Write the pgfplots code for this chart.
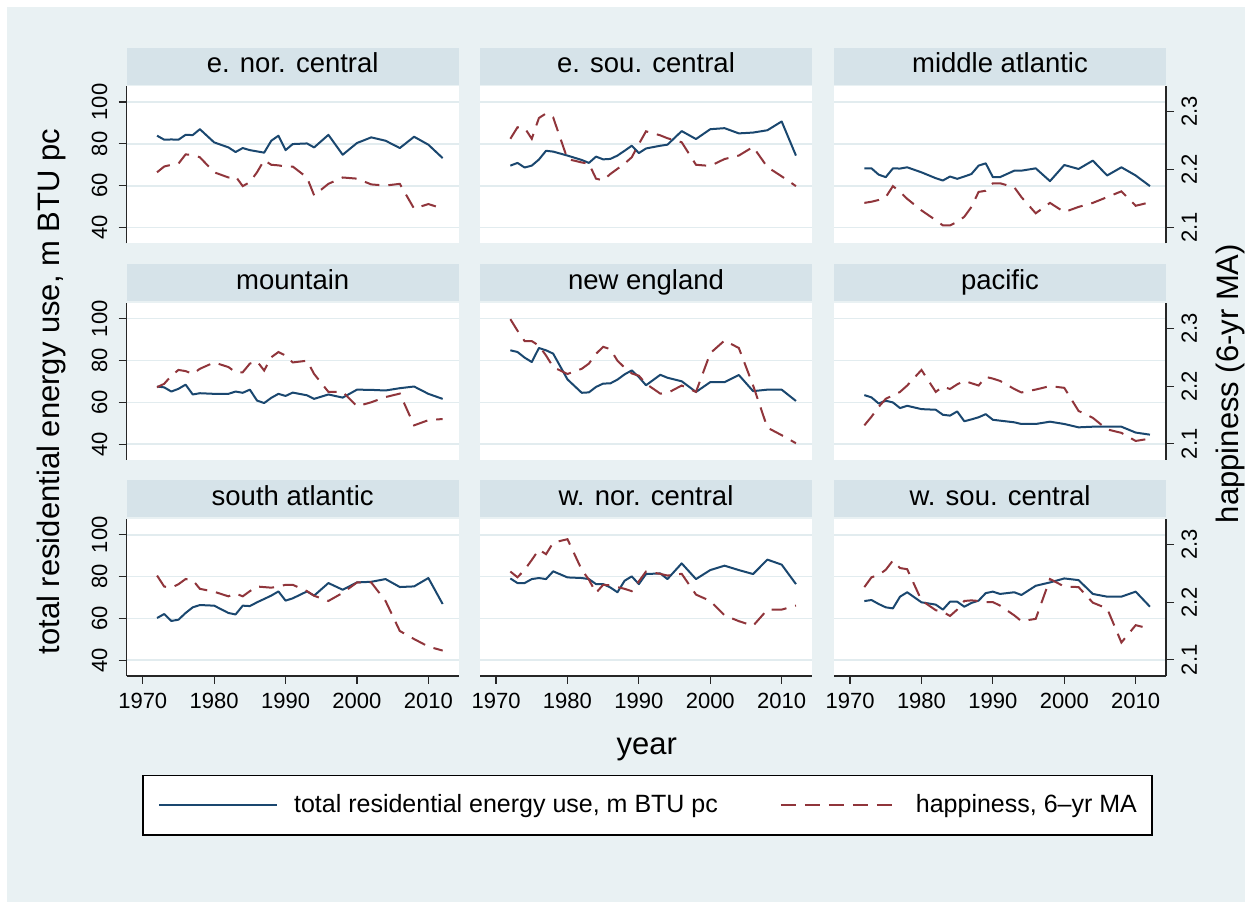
\documentclass[border=0pt]{standalone}
\usepackage{fontspec}
\setmainfont{Liberation Sans}
\usepackage{pgfplots}
\usepackage{pgfplotstable}
\pgfplotsset{compat=1.18}
\definecolor{bgc}{RGB}{233,241,243}
\definecolor{hdr}{RGB}{214,227,233}
\definecolor{gridc}{RGB}{226,236,239}
\definecolor{navy}{RGB}{26,71,111}
\definecolor{maroon}{RGB}{144,53,59}
\newcommand{\tickfont}{\fontsize{11}{13}\selectfont}

\pgfplotstableread{
year e1 h1 e2 h2 e3 h3 e4 h4 e5 h5 e6 h6 e7 h7 e8 h8 e9 h9
1972 83.9 2.195 69.6 2.253 68.3 2.142 67.6 2.198 84.9 2.316 63.5 2.132 60.2 2.246 79.1 2.253 68.3 2.226
1973 82.0 2.205 70.9 2.273 68.3 2.144 67.2 2.204 84.1 2.296 62.4 2.147 62.1 2.227 76.9 2.243 68.8 2.243
1974 82.1 2.208 68.7 2.272 65.3 2.147 65.2 2.218 81.4 2.278 59.5 2.164 58.8 2.225 76.9 2.256 66.9 2.247
1975 82.0 2.210 69.6 2.253 64.1 2.152 66.5 2.228 79.3 2.278 60.8 2.178 59.4 2.231 78.8 2.273 65.3 2.256
1976 84.3 2.226 72.5 2.289 68.3 2.171 68.5 2.226 86.0 2.270 60.0 2.184 62.6 2.240 79.3 2.291 64.8 2.272
1977 84.2 2.225 76.7 2.297 68.2 2.161 63.8 2.221 84.9 2.253 57.3 2.190 65.3 2.238 78.8 2.283 70.4 2.259
1978 87.0 2.221 76.3 2.290 68.8 2.149 64.4 2.230 83.3 2.233 58.4 2.201 66.4 2.223 82.5 2.303 72.5 2.257
1980 80.7 2.195 74.4 2.218 66.4 2.129 64.1 2.241 71.0 2.221 56.8 2.228 66.1 2.218 79.6 2.309 67.7 2.203
1982 78.3 2.186 72.3 2.212 63.6 2.112 64.1 2.233 64.6 2.230 56.5 2.190 62.6 2.210 79.3 2.256 66.6 2.186
1983 76.1 2.188 70.9 2.210 62.5 2.103 65.2 2.224 64.8 2.239 54.1 2.199 61.9 2.215 78.8 2.239 64.2 2.183
1984 78.0 2.171 73.9 2.184 64.4 2.103 64.6 2.224 67.4 2.256 53.7 2.195 66.1 2.210 76.4 2.216 68.0 2.176
1985 77.0 2.178 72.6 2.181 63.3 2.109 66.1 2.239 69.0 2.268 55.7 2.203 65.9 2.219 76.4 2.230 68.0 2.187
1986 76.4 2.195 72.8 2.192 64.4 2.118 60.9 2.243 69.1 2.264 51.0 2.209 67.7 2.227 74.8 2.229 65.6 2.202
1987 75.8 2.216 74.4 2.201 65.6 2.135 59.7 2.227 70.9 2.244 51.9 2.205 69.3 2.226 72.5 2.226 67.4 2.203
1988 81.5 2.208 76.7 2.210 69.6 2.161 62.2 2.250 73.4 2.232 52.9 2.201 70.9 2.225 78.0 2.223 68.5 2.202
1989 83.9 2.207 79.1 2.221 70.7 2.163 64.1 2.259 75.3 2.222 54.4 2.216 72.9 2.227 80.1 2.219 72.1 2.200
1990 77.0 2.205 75.6 2.244 64.1 2.176 63.1 2.253 72.1 2.218 51.7 2.213 68.5 2.230 76.4 2.236 72.8 2.200
1991 79.9 2.205 77.8 2.266 64.1 2.176 64.7 2.241 68.2 2.204 51.3 2.209 69.6 2.230 81.2 2.253 71.7 2.194
1993 80.2 2.186 79.1 2.259 67.2 2.169 63.4 2.244 73.2 2.187 50.5 2.195 72.9 2.219 81.5 2.249 72.5 2.177
1994 78.3 2.155 79.6 2.254 67.2 2.152 61.7 2.221 71.8 2.188 49.7 2.189 70.9 2.211 78.8 2.246 71.2 2.167
1996 84.3 2.175 86.1 2.247 68.3 2.124 63.8 2.190 70.1 2.201 49.7 2.194 76.9 2.202 86.3 2.249 75.6 2.171
1998 74.8 2.186 82.3 2.208 62.2 2.142 62.3 2.190 65.0 2.190 50.8 2.200 73.7 2.216 78.8 2.213 77.2 2.240
2000 80.4 2.184 87.0 2.206 69.9 2.126 66.1 2.165 69.7 2.257 49.7 2.197 77.2 2.234 83.1 2.202 79.1 2.227
2002 83.1 2.174 87.5 2.218 68.0 2.135 66.0 2.172 69.7 2.279 48.1 2.157 77.5 2.234 85.2 2.177 78.3 2.226
2004 81.5 2.172 85.0 2.224 72.0 2.142 65.7 2.181 73.1 2.266 48.4 2.145 78.8 2.202 83.1 2.167 71.7 2.199
2006 78.0 2.175 85.4 2.239 64.9 2.152 66.8 2.187 65.4 2.201 48.4 2.125 75.0 2.150 81.2 2.159 70.4 2.189
2008 83.4 2.132 86.5 2.204 68.8 2.162 67.6 2.132 66.1 2.128 48.4 2.119 75.3 2.136 88.1 2.187 70.4 2.130
2010 79.6 2.140 90.7 2.188 64.9 2.137 64.1 2.141 66.1 2.115 45.6 2.105 79.3 2.123 85.7 2.187 72.8 2.160
2012 73.2 2.132 74.4 2.171 59.8 2.143 61.7 2.143 60.7 2.101 44.6 2.109 66.9 2.116 76.4 2.194 65.6 2.154
}\data

\pgfplotsset{
  panel/.style={scale only axis, width=166pt, height=78.5pt, anchor=south west,
    xmin=1967.75, xmax=2014.25,
    axis line style={-, line width=0.6pt, black!85},
    tick style={line width=0.6pt, black!85},
    tick align=outside, major tick length=4pt,
    /pgf/number format/assume math mode=true,
    /pgf/number format/1000 sep={},
  },
  eax/.style={panel, ymin=32.5, ymax=107.5, ytick={40,60,80,100},
    xtick={1970,1980,...,2010},
    separate axis lines, axis x line*=bottom, axis y line*=left,
    ymajorgrids, major grid style={gridc, line width=0.8pt},
    axis background/.style={fill=white},
    xticklabel style={font=\tickfont, inner sep=4.5pt},
    yticklabel style={font=\tickfont, rotate=90, anchor=south, inner sep=5.5pt},
    every axis title/.style={at={(0.5,1)}, anchor=south, yshift=0.6pt, fill=hdr,
      minimum width=166pt, minimum height=18.5pt, inner sep=0pt,
      text height=9.5pt, text depth=3.3pt, font=\fontsize{13.75}{16}\selectfont},
  },
  noy/.style={y axis line style={draw=none}, ytick style={draw=none}, yticklabels={}},
  nox/.style={x axis line style={draw=none}, xtick style={draw=none}, xticklabels={}},
  hax/.style={panel, ymin=2.072, ymax=2.344, ytick={2.1,2.2,2.3},
    axis x line=none, axis y line*=right,
    yticklabel style={font=\tickfont, rotate=90, anchor=north, inner sep=3.5pt},
  },
  hnone/.style={axis y line=none, ytick=\empty},
  eline/.style={navy, line width=1pt, line join=round},
  hline/.style={maroon, line width=1pt, dash pattern=on 7.5pt off 4.5pt},
}

\begin{document}
\begin{tikzpicture}
\path[use as bounding box] (0,0) rectangle (626pt,454.5pt);
\fill[bgc] (3.5pt,3.5pt) rectangle (622.5pt,451pt);

% ---- row 1
\begin{axis}[eax, nox, at={(63.35pt,332.85pt)}, title={e. nor. central}]
\addplot[eline] table[x=year,y=e1]{\data};
\end{axis}
\begin{axis}[hax, hnone, at={(63.35pt,332.85pt)}]
\addplot[hline] table[x=year,y=h1]{\data};
\end{axis}

\begin{axis}[eax, nox, noy, at={(240pt,332.85pt)}, title={e. sou. central}]
\addplot[eline] table[x=year,y=e2]{\data};
\end{axis}
\begin{axis}[hax, hnone, at={(240pt,332.85pt)}]
\addplot[hline] table[x=year,y=h2]{\data};
\end{axis}

\begin{axis}[eax, nox, noy, at={(417pt,332.85pt)}, title={middle atlantic}]
\addplot[eline] table[x=year,y=e3]{\data};
\end{axis}
\begin{axis}[hax, at={(417pt,332.85pt)}]
\addplot[hline] table[x=year,y=h3]{\data};
\end{axis}

% ---- row 2
\begin{axis}[eax, nox, at={(63.35pt,224.5pt)}, title={mountain}]
\addplot[eline] table[x=year,y=e4]{\data};
\end{axis}
\begin{axis}[hax, hnone, at={(63.35pt,224.5pt)}]
\addplot[hline] table[x=year,y=h4]{\data};
\end{axis}

\begin{axis}[eax, nox, noy, at={(240pt,224.5pt)}, title={new england}]
\addplot[eline] table[x=year,y=e5]{\data};
\end{axis}
\begin{axis}[hax, hnone, at={(240pt,224.5pt)}]
\addplot[hline] table[x=year,y=h5]{\data};
\end{axis}

\begin{axis}[eax, nox, noy, at={(417pt,224.5pt)}, title={pacific}]
\addplot[eline] table[x=year,y=e6]{\data};
\end{axis}
\begin{axis}[hax, at={(417pt,224.5pt)}]
\addplot[hline] table[x=year,y=h6]{\data};
\end{axis}

% ---- row 3
\begin{axis}[eax, at={(63.35pt,116.5pt)}, title={south atlantic}]
\addplot[eline] table[x=year,y=e7]{\data};
\end{axis}
\begin{axis}[hax, hnone, at={(63.35pt,116.5pt)}]
\addplot[hline] table[x=year,y=h7]{\data};
\end{axis}

\begin{axis}[eax, noy, at={(240pt,116.5pt)}, title={w. nor. central},
  legend columns=2, legend cell align=left,
  legend image code/.code={\draw[#1] (0pt,0pt) -- (59pt,0pt);},
  legend style={at={(0.5045,-0.6306)}, anchor=north, draw=black, line width=0.7pt,
    fill=white, font=\fontsize{12.5}{15}\selectfont, inner xsep=7.5pt, inner ysep=9.5pt,
    /tikz/every odd column/.style={column sep=8pt},
    /tikz/every even column/.style={column sep=31pt},
    nodes={inner sep=0pt}},
]
\addplot[eline] table[x=year,y=e8]{\data};
\addlegendentry{total residential energy use, m BTU pc}
\addlegendimage{hline}
\addlegendentry{happiness, 6--yr MA}
\end{axis}
\begin{axis}[hax, hnone, at={(240pt,116.5pt)}]
\addplot[hline] table[x=year,y=h8]{\data};
\end{axis}

\begin{axis}[eax, noy, at={(417pt,116.5pt)}, title={w. sou. central}]
\addplot[eline] table[x=year,y=e9]{\data};
\end{axis}
\begin{axis}[hax, at={(417pt,116.5pt)}]
\addplot[hline] table[x=year,y=h9]{\data};
\end{axis}

% ---- axis titles
\node[rotate=90, anchor=base, font=\fontsize{15.5}{18}\selectfont] at (29.5pt,258.75pt) {total residential energy use, m BTU pc};
\node[rotate=90, anchor=base, font=\fontsize{15.5}{18}\selectfont] at (619pt,262.75pt) {happiness (6-yr MA)};
\node[anchor=base, font=\fontsize{15.5}{18}\selectfont] at (323.35pt,77pt) {year};
\end{tikzpicture}
\end{document}
